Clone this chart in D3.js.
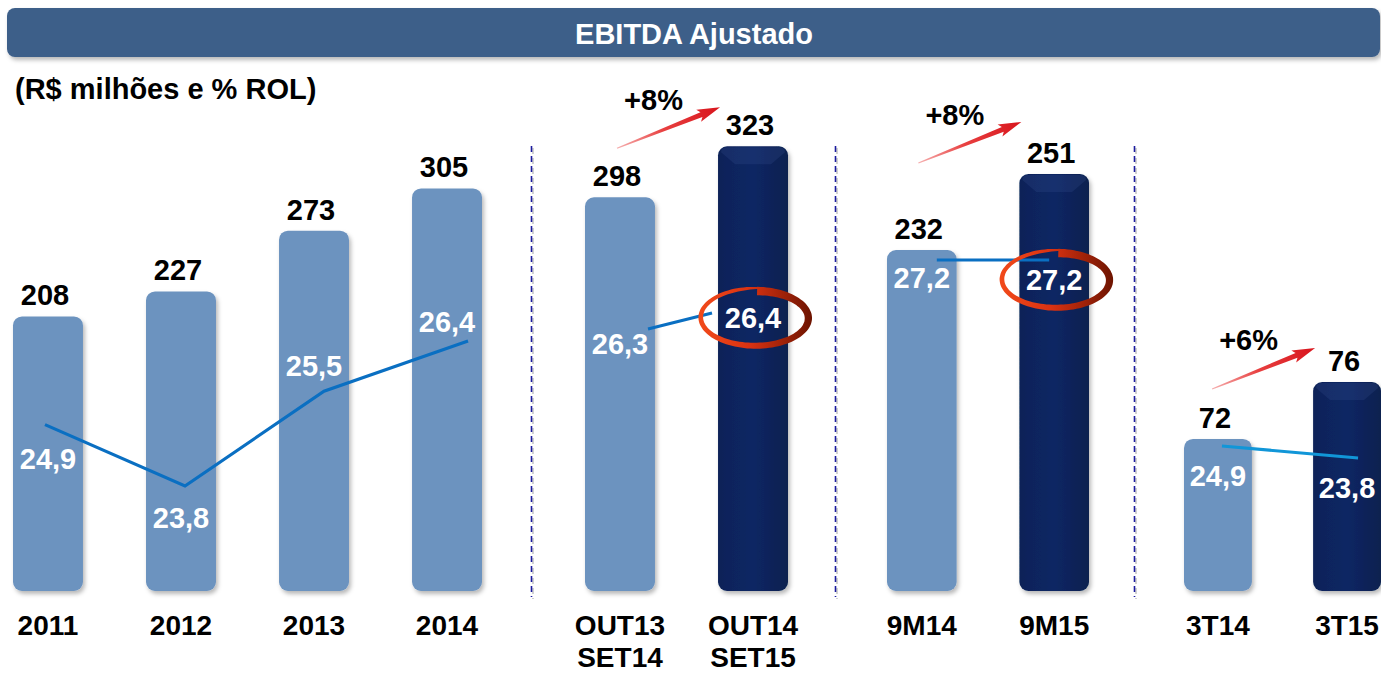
<!DOCTYPE html>
<html>
<head>
<meta charset="utf-8">
<script src="https://cdn.jsdelivr.net/npm/d3@7"></script>
<style>
  body { margin: 0; background: #fff; }
  text { font-family: "Liberation Sans", Arial, sans-serif; font-weight: bold; }
</style>
</head>
<body>
<svg id="chart"></svg>
<script>
// data
var categories = [["2011"], ["2012"], ["2013"], ["2014"], ["OUT13", "SET14"], ["OUT14", "SET15"], ["9M14"], ["9M15"], ["3T14"], ["3T15"]];
var ebitda = [208, 227, 273, 305, 298, 323, 232, 251, 72, 76];
var margin = [24.9, 23.8, 25.5, 26.4, 26.3, 26.4, 27.2, 27.2, 24.9, 23.8];
var groupOf = [0, 0, 0, 0, 1, 1, 2, 2, 3, 3];
var highlighted = [5, 7, 9];
var circled = [5, 7];
var growthLabels = ["+8%", "+8%", "+6%"];

// layout of the four panels (each one was its own chart with its own axis)
var svgWidth = 1381, svgHeight = 673, baseY = 591, topY = 60;
var panels = [
  { x0: 13, x1: 482, vMin: 0, vMax: 402.3, pDom: [23.8, 26.4], pRange: [486, 341] },
  { x0: 585, x1: 788, vMin: 105, vMax: 365.3, pDom: [26.3, 26.4], pRange: [329, 313] },
  { x0: 887, x1: 1089, vMin: 146.75, vMax: 279.5, pDom: [27.1, 27.3], pRange: [271, 249] },
  { x0: 1184, x1: 1381, vMin: 61.33, vMax: 98.6, pDom: [23.8, 24.9], pRange: [458, 446] }
];
// small nudges for the line ends and % labels
var lineDx = [-3, 4, 10, 21, 28, -41, 15, -5, 4, 11];
var pctDy = [34, 32, -25, -19, 15, 5, 18, 20, 30, 30];
var arrowLift = [39, 52, 34];

var fmt = function (v) { return d3.format(".1f")(v).replace(".", ","); };

var svg = d3.select("#chart")
  .attr("width", svgWidth)
  .attr("height", svgHeight);

var defs = svg.append("defs");
var shadow = defs.append("filter").attr("id", "shadow")
  .attr("x", "-20%").attr("y", "-20%").attr("width", "150%").attr("height", "150%");
shadow.append("feDropShadow").attr("dx", 2).attr("dy", 3).attr("stdDeviation", 2)
  .attr("flood-color", "#000").attr("flood-opacity", 0.28);

var darkGrad = defs.append("linearGradient").attr("id", "darkGrad")
  .attr("x1", 0).attr("y1", 0).attr("x2", 1).attr("y2", 0);
darkGrad.append("stop").attr("offset", "0%").attr("stop-color", "#0a2358");
darkGrad.append("stop").attr("offset", "50%").attr("stop-color", "#0b2664");
darkGrad.append("stop").attr("offset", "100%").attr("stop-color", "#08204f");

// scales per panel
panels.forEach(function (p, g) {
  var cats = d3.range(ebitda.length).filter(function (i) { return groupOf[i] === g; });
  p.x = d3.scaleBand().domain(cats).range([p.x0, p.x1]).paddingInner(0.474).paddingOuter(0);
  p.y = d3.scaleLinear().domain([p.vMin, p.vMax]).range([baseY, topY]);
  p.p = d3.scaleLinear().domain(p.pDom).range(p.pRange);
});

function barX(i) { return panels[groupOf[i]].x(i); }
function barW(i) { return panels[groupOf[i]].x.bandwidth(); }
function barTop(i) { return panels[groupOf[i]].y(ebitda[i]); }
function barCx(i) { return barX(i) + barW(i) / 2; }
function lineY(i) { return panels[groupOf[i]].p(margin[i]); }

// title bar
svg.append("rect")
  .attr("x", 7).attr("y", 8).attr("width", 1373).attr("height", 49).attr("rx", 8)
  .attr("fill", "#3d5f89").attr("filter", "url(#shadow)");
svg.append("text")
  .attr("x", 694).attr("y", 44).attr("text-anchor", "middle")
  .attr("fill", "#fff").attr("font-size", 29).text("EBITDA Ajustado");
svg.append("text")
  .attr("x", 15).attr("y", 99).attr("fill", "#000").attr("font-size", 29)
  .text("(R$ milhões e % ROL)");

// dashed separators
for (var g = 0; g < panels.length - 1; g++) {
  var sx = (panels[g].x1 + panels[g + 1].x0) / 2 - 2;
  svg.append("line")
    .attr("x1", sx + 1.5).attr("x2", sx + 1.5).attr("y1", 148).attr("y2", 599)
    .attr("stroke", "#c8c8c8").attr("stroke-width", 1.6)
    .attr("stroke-dasharray", "6,4");
  svg.append("line")
    .attr("x1", sx).attr("x2", sx).attr("y1", 146).attr("y2", 597)
    .attr("stroke", "#1c1c9e").attr("stroke-width", 1.6)
    .attr("stroke-dasharray", "6,4");
}

// bars
var idx = d3.range(ebitda.length);
svg.selectAll("rect.bar")
  .data(idx)
  .enter()
  .append("rect")
  .attr("class", "bar")
  .attr("x", barX)
  .attr("y", barTop)
  .attr("width", barW)
  .attr("height", function (i) { return baseY - barTop(i); })
  .attr("rx", 9)
  .attr("fill", function (i) { return highlighted.indexOf(i) >= 0 ? "url(#darkGrad)" : "#6c93bf"; })
  .attr("filter", "url(#shadow)");

// soft bevel on the dark bars
svg.selectAll("path.bevel")
  .data(highlighted)
  .enter()
  .append("path")
  .attr("class", "bevel")
  .attr("d", function (i) {
    var x = barX(i), w = barW(i), t = barTop(i), b = 14;
    return "M" + (x + 3) + "," + (t + 6) + " Q" + (x + 3) + "," + (t + 1) + " " + (x + 9) + "," + (t + 1) +
      " L" + (x + w - 9) + "," + (t + 1) + " Q" + (x + w - 3) + "," + (t + 1) + " " + (x + w - 3) + "," + (t + 6) +
      " L" + (x + w - 3 - b) + "," + (t + b + 4) + " L" + (x + 3 + b) + "," + (t + b + 4) + " Z";
  })
  .attr("fill", "#3a5895").attr("opacity", 0.22);

// % ROL lines, one per panel
var line = d3.line()
  .x(function (i) { return barCx(i) + lineDx[i]; })
  .y(lineY);
panels.forEach(function (p, g) {
  var pts = idx.filter(function (i) { return groupOf[i] === g; });
  svg.append("path")
    .datum(pts)
    .attr("d", line)
    .attr("fill", "none")
    .attr("stroke", g === 3 ? "#1196d8" : "#0a6fc2")
    .attr("stroke-width", 3.2);
});

// value labels
svg.selectAll("text.val")
  .data(idx)
  .enter()
  .append("text")
  .attr("class", "val")
  .attr("x", function (i) { return barCx(i) - 3; })
  .attr("y", function (i) { return barTop(i) - 11; })
  .attr("text-anchor", "middle")
  .attr("font-size", 29)
  .attr("fill", "#000")
  .text(function (i) { return ebitda[i]; });

// margin labels
svg.selectAll("text.pct")
  .data(idx)
  .enter()
  .append("text")
  .attr("class", "pct")
  .attr("x", barCx)
  .attr("y", function (i) { return lineY(i) + pctDy[i] + 10; })
  .attr("text-anchor", "middle")
  .attr("font-size", 29)
  .attr("fill", "#fff")
  .text(function (i) { return fmt(margin[i]); });

// category labels
var catText = svg.selectAll("text.cat")
  .data(idx)
  .enter()
  .append("text")
  .attr("class", "cat")
  .attr("text-anchor", "middle")
  .attr("font-size", 28)
  .attr("fill", "#000");
catText.selectAll("tspan")
  .data(function (i) { return categories[i].map(function (s) { return { s: s, i: i }; }); })
  .enter()
  .append("tspan")
  .attr("x", function (d) { return barCx(d.i); })
  .attr("y", function (d, k) { return 635 + k * 32; })
  .text(function (d) { return d.s; });

// growth arrows
panels.slice(1).forEach(function (p, k) {
  var second = p.x.domain()[1];
  var tip = [barX(second) + 2, barTop(second) - arrowLift[k]];
  var tail = [tip[0] - 103, tip[1] + 41];
  var dx = tip[0] - tail[0], dy = tip[1] - tail[1], len = Math.sqrt(dx * dx + dy * dy);
  var ux = dx / len, uy = dy / len, nx = -uy, ny = ux;
  function pt(a, w) { return [tail[0] + ux * a + nx * w, tail[1] + uy * a + ny * w]; }
  var hl = 20;
  var poly = [pt(0, 0.6), pt(len - hl, 2.6), pt(len - hl - 3, 6.5), pt(len, 0),
              pt(len - hl - 3, -6.5), pt(len - hl, -2.6), pt(0, -0.6)];
  var gid = "arrowGrad" + k;
  var ag = defs.append("linearGradient").attr("id", gid).attr("gradientUnits", "userSpaceOnUse")
    .attr("x1", tail[0]).attr("y1", tail[1]).attr("x2", tip[0]).attr("y2", tip[1]);
  ag.append("stop").attr("offset", "0%").attr("stop-color", "#f6b0b0");
  ag.append("stop").attr("offset", "45%").attr("stop-color", "#e84040");
  ag.append("stop").attr("offset", "100%").attr("stop-color", "#d8141c");
  svg.append("path")
    .attr("d", "M" + poly.map(function (q) { return q[0] + "," + q[1]; }).join("L") + "Z")
    .attr("fill", "url(#" + gid + ")");
  svg.append("text")
    .attr("x", (tip[0] + tail[0]) / 2 - 15)
    .attr("y", (tip[1] + tail[1]) / 2 - 18)
    .attr("text-anchor", "middle")
    .attr("font-size", 29)
    .attr("fill", "#000")
    .text(growthLabels[k]);
});

// hand-drawn circles round the highlighted margins
circled.forEach(function (i, k) {
  var cx = barCx(i) + 3, cy = lineY(i) + pctDy[i];
  var rx = 52, ry = 27;
  var th0 = -1.55, th1 = th0 + 2 * Math.PI + 0.5, n = 120;
  var outer = [], inner = [];
  for (var j = 0; j <= n; j++) {
    var t = j / n, th = th0 + (th1 - th0) * t;
    var s = 1 + 0.13 * t * t;
    var w = (8.5 - 5.5 * t) * Math.min(1, (1 - t) / 0.14 + 0.08);
    var ex = Math.cos(th), ey = Math.sin(th);
    outer.push([cx + (rx * s + w / 2) * ex, cy + (ry * s + w / 2) * ey]);
    inner.push([cx + (rx * s - w / 2) * ex, cy + (ry * s - w / 2) * ey]);
  }
  var pts = outer.concat(inner.reverse());
  var gid = "ringGrad" + k;
  var rg = defs.append("linearGradient").attr("id", gid).attr("gradientUnits", "userSpaceOnUse")
    .attr("x1", cx - 58).attr("y1", cy).attr("x2", cx + 58).attr("y2", cy);
  rg.append("stop").attr("offset", "0%").attr("stop-color", "#f24a1a");
  rg.append("stop").attr("offset", "45%").attr("stop-color", "#d93212");
  rg.append("stop").attr("offset", "100%").attr("stop-color", "#6a1300");
  svg.append("path")
    .attr("d", "M" + pts.map(function (q) { return q[0].toFixed(1) + "," + q[1].toFixed(1); }).join("L") + "Z")
    .attr("fill", "url(#" + gid + ")");
});
</script>
</body>
</html>
